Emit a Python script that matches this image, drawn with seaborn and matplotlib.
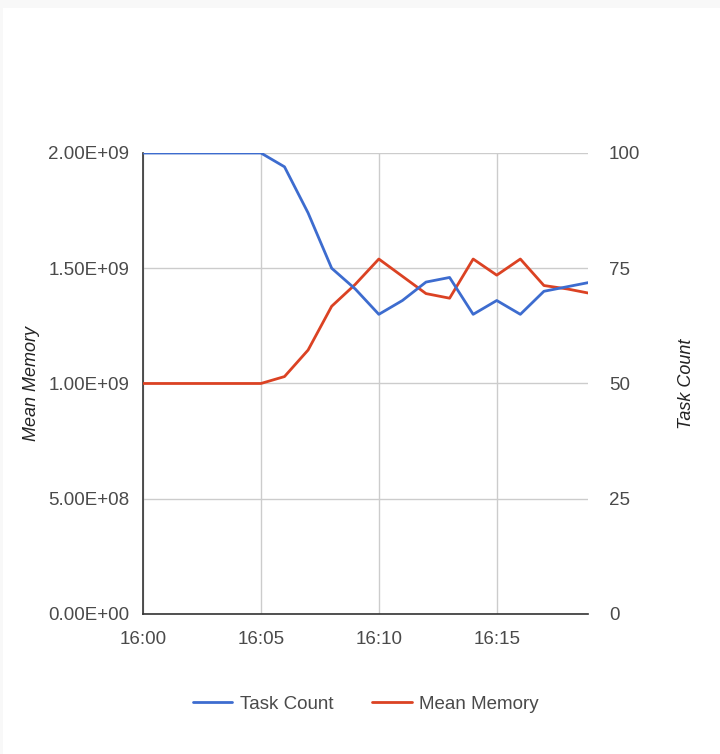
import pandas as pd
import numpy as np
import matplotlib
matplotlib.use('Agg')
import matplotlib.pyplot as plt
import seaborn as sns

# Data (one point per minute)
times = ['16:00', '16:01', '16:02', '16:03', '16:04', '16:05', '16:06', '16:07', '16:08', '16:09',
         '16:10', '16:11', '16:12', '16:13', '16:14', '16:15', '16:16', '16:17', '16:18', '16:19']
task_count = [100, 100, 100, 100, 100, 100, 97, 87, 75, 70.5,
              65, 68, 72, 73, 65, 68, 65, 70, 71, 72]
mean_memory = [1.0e9, 1.0e9, 1.0e9, 1.0e9, 1.0e9, 1.0e9, 1.03e9, 1.145e9, 1.335e9, 1.43e9,
               1.54e9, 1.465e9, 1.39e9, 1.37e9, 1.54e9, 1.47e9, 1.54e9, 1.425e9, 1.41e9, 1.39e9]
tick_times = ['16:00', '16:05', '16:10', '16:15']
mem_ticks = [0, 5e8, 1e9, 1.5e9, 2e9]
mem_labels = ['0.00E+00', '5.00E+08', '1.00E+09', '1.50E+09', '2.00E+09']
count_ticks = [0, 25, 50, 75, 100]

# Convert times to minutes after 16:00
df = pd.DataFrame({'time': times, 'Task Count': task_count, 'Mean Memory': mean_memory})
df['minute'] = pd.to_datetime(df['time'], format='%H:%M').dt.minute
tick_pos = pd.to_datetime(pd.Series(tick_times), format='%H:%M').dt.minute

sns.set_style('white')
plt.rcParams['font.family'] = ['Liberation Sans', 'DejaVu Sans']

blue = '#3d6ccf'
red = '#db4223'
text_gray = '#4a4a4a'
grid_gray = '#cccccc'
fs = 13.5

fig = plt.figure(figsize=(7.2, 7.54), dpi=100, facecolor='#f8f8f8')
# white card with a faint border on top and left, like the screenshot
fig.patches.append(plt.Rectangle((3 / 720, 0), 1, 746 / 754, transform=fig.transFigure,
                                 facecolor='white', edgecolor='none', zorder=-1))

ax = fig.add_axes([0.1986, 0.1857, 0.6181, 0.6114])
ax2 = ax.twinx()

sns.lineplot(data=df, x='minute', y='Mean Memory', ax=ax, color=red, linewidth=2.0, zorder=3)
sns.lineplot(data=df, x='minute', y='Task Count', ax=ax2, color=blue, linewidth=2.0, zorder=3)

ax.set_xlim(0, 18.87)
ax.set_ylim(0, 2e9)
ax2.set_ylim(0, 100)

ax.set_xticks(tick_pos)
ax.set_xticklabels(tick_times)
ax.set_yticks(mem_ticks)
ax.set_yticklabels(mem_labels)
ax2.set_yticks(count_ticks)
ax2.set_yticklabels([str(c) for c in count_ticks])

ax.grid(True, color=grid_gray, linewidth=1)
ax.set_axisbelow(True)
ax2.grid(False)
ax.set_facecolor('none')
ax2.set_facecolor('none')

for a in (ax, ax2):
    for s in ['top', 'right']:
        a.spines[s].set_visible(False)
ax2.spines['left'].set_visible(False)
ax2.spines['bottom'].set_visible(False)
ax.spines['left'].set_color('#333333')
ax.spines['bottom'].set_color('#333333')
ax.spines['left'].set_linewidth(1.2)
ax.spines['bottom'].set_linewidth(1.2)

ax.tick_params(axis='both', length=0, labelsize=fs, labelcolor=text_gray)
ax.tick_params(axis='y', pad=10)
ax.tick_params(axis='x', pad=12)
ax2.tick_params(axis='y', length=0, labelsize=fs, labelcolor=text_gray, pad=15)

ax.set_xlabel('')
ax.set_ylabel('Mean Memory', fontsize=13, style='italic', color='#222222', labelpad=6)
ax2.set_ylabel('Task Count', fontsize=13, style='italic', color='#222222', labelpad=27)

# Legend centred under the plot
handles = [plt.Line2D([], [], color=blue, linewidth=2.0),
           plt.Line2D([], [], color=red, linewidth=2.0)]
leg = fig.legend(handles, ['Task Count', 'Mean Memory'], loc='center',
                 bbox_to_anchor=(0.508, 0.066), ncol=2, frameon=False,
                 fontsize=fs, handlelength=2.1, columnspacing=2.1, handletextpad=0.4)
for t in leg.get_texts():
    t.set_color(text_gray)

fig.savefig('out.png', dpi=100, facecolor=fig.get_facecolor())
